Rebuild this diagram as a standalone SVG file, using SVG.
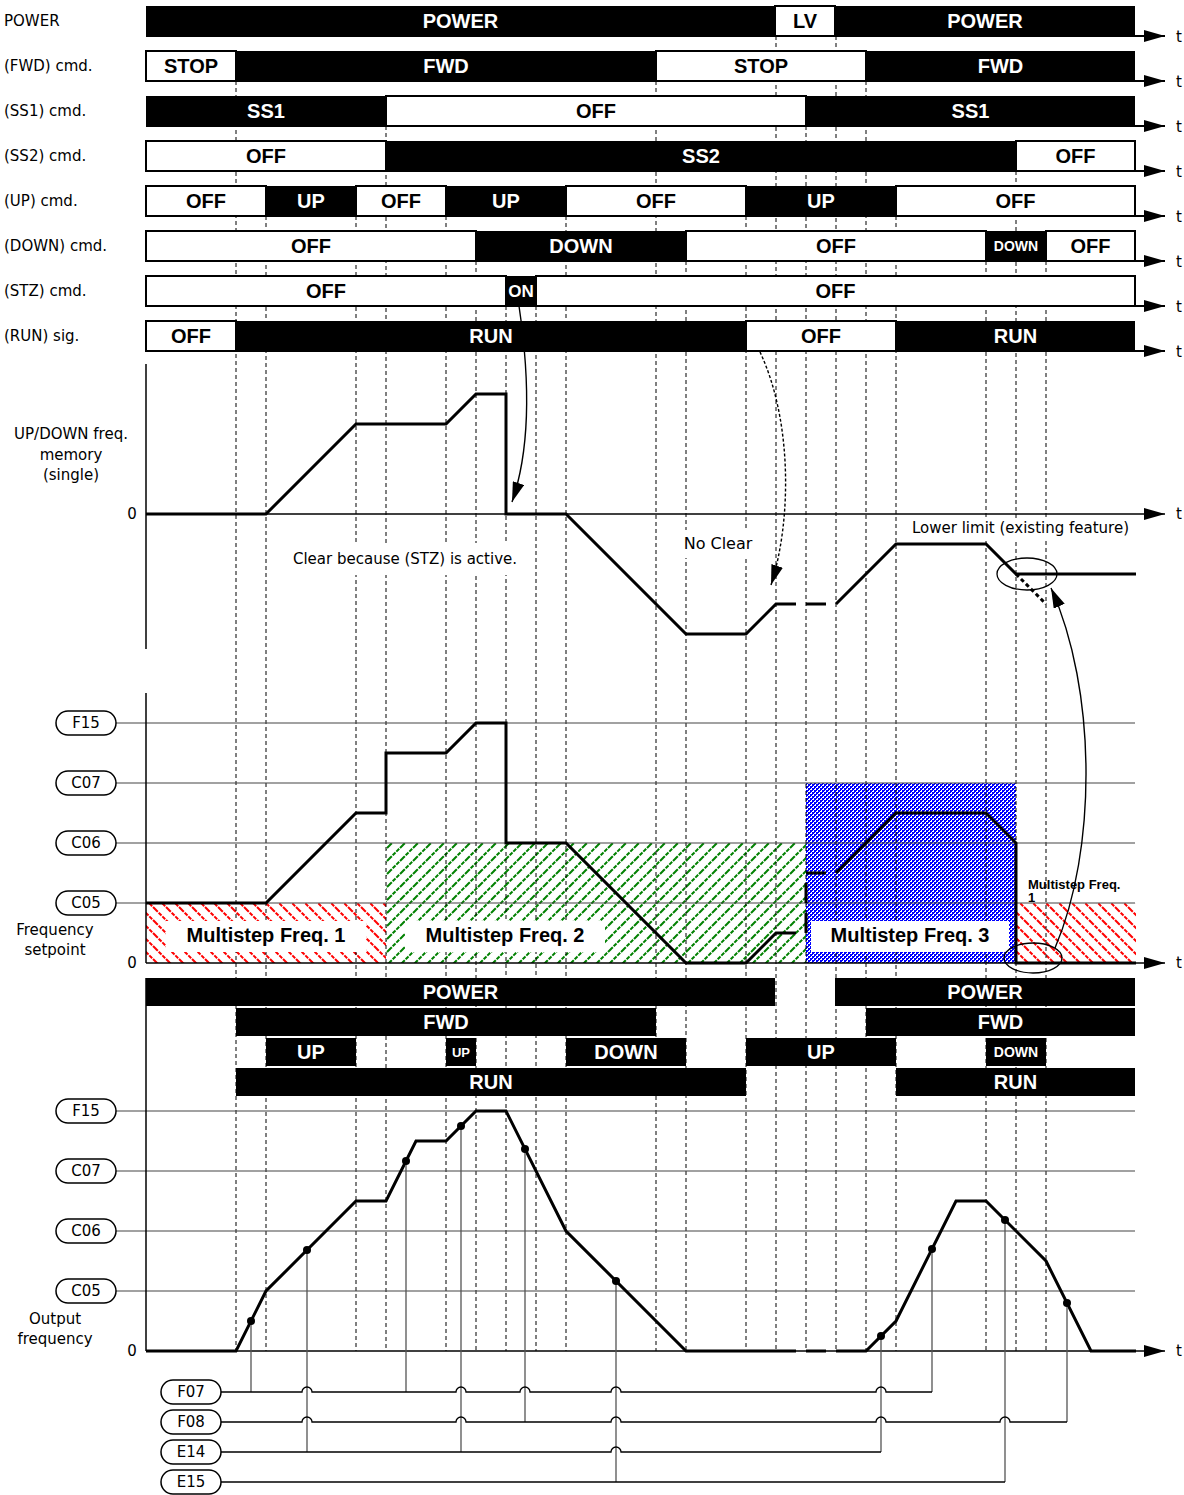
<svg xmlns="http://www.w3.org/2000/svg" width="1184" height="1495" viewBox="0 0 1184 1495">
<style>
.lbl{font-family:"DejaVu Sans",sans-serif;font-size:15px;fill:#000;dominant-baseline:central}
.mid{text-anchor:middle}
.b{font-family:"Liberation Sans",Arial,sans-serif;font-weight:bold;font-size:20px;text-anchor:middle;dominant-baseline:central}
.bw{fill:#fff}
.bk{fill:#000}
.blk{fill:#000}
.wht{fill:#fff;stroke:#000;stroke-width:2}
.dash{fill:none;stroke:#000;stroke-width:1;stroke-dasharray:4 3}
.curve{fill:none;stroke:#000;stroke-width:3;stroke-linejoin:miter}
.lvl{stroke:#444;stroke-width:1.2}
.ax{stroke:#000;stroke-width:2}
.ax1{stroke:#000;stroke-width:1.5}
.pill{fill:#fff;stroke:#000;stroke-width:1.5}
.vline{stroke:#555;stroke-width:1.3}
.bus{fill:none;stroke:#000;stroke-width:1.3}
.conn{fill:none;stroke:#000;stroke-width:1.4}
</style>
<defs>
<marker id="ah" viewBox="0 0 20 12" refX="20" refY="6" markerWidth="20" markerHeight="12" orient="auto" markerUnits="userSpaceOnUse"><path d="M0,0 L20,6 L0,12 z" fill="#000"/></marker>
<marker id="tri" viewBox="0 0 21 12" refX="21" refY="6" markerWidth="21" markerHeight="12" orient="auto" markerUnits="userSpaceOnUse"><path d="M0,0 L21,6 L0,12 z" fill="#000"/></marker>
<pattern id="red" width="13" height="13" patternUnits="userSpaceOnUse"><path d="M-1,-1 L14,14 M-1,12 L1,14 M12,-1 L14,1" stroke="#ff0000" stroke-width="2" stroke-dasharray="4 1.2"/></pattern>
<pattern id="green" width="13" height="13" patternUnits="userSpaceOnUse"><path d="M-1,14 L14,-1 M-1,1 L1,-1 M12,14 L14,12" stroke="#008000" stroke-width="2" stroke-dasharray="4 1.2"/></pattern>
<pattern id="blue" width="4" height="4" patternUnits="userSpaceOnUse"><rect x="0" y="0" width="4" height="4" fill="#ffffff"/><rect x="0" y="0" width="2" height="2" fill="#0000ff"/><rect x="2" y="2" width="2" height="2" fill="#0000ff"/><rect x="2" y="0" width="1" height="1" fill="#0000ff"/><rect x="0" y="2" width="1" height="1" fill="#0000ff"/></pattern>
</defs>
<rect width="1184" height="1495" fill="#fff"/>

<g id="hatch">
<rect x="146" y="903" width="240" height="60" fill="url(#red)"/>
<rect x="1016" y="903" width="120" height="60" fill="url(#red)"/>
<rect x="386" y="843" width="420" height="120" fill="url(#green)"/>
<rect x="806" y="783" width="210" height="180" fill="url(#blue)"/>
</g>

<path id="gridlines" class="dash" d="M236,81V1351 M266,216V1351 M356,216V1351 M386,126V1351 M446,216V1351 M476,261V1351 M506,306V1351 M536,306V1351 M566,216V1351 M656,81V1351 M686,261V1351 M746,216V1351 M776,36V1351 M806,126V1351 M836,36V1351 M866,81V1351 M896,216V1351 M986,261V1351 M1016,171V1351 M1046,261V1351"/>

<g id="levels">
<line class="lvl" x1="116" y1="723" x2="1135" y2="723"/>
<line class="lvl" x1="116" y1="783" x2="1135" y2="783"/>
<line class="lvl" x1="116" y1="843" x2="1135" y2="843"/>
<line class="lvl" x1="116" y1="903" x2="1135" y2="903"/>
<line class="lvl" x1="116" y1="1111" x2="1135" y2="1111"/>
<line class="lvl" x1="116" y1="1171" x2="1135" y2="1171"/>
<line class="lvl" x1="116" y1="1231" x2="1135" y2="1231"/>
<line class="lvl" x1="116" y1="1291" x2="1135" y2="1291"/>
</g>

<g id="graph-memory">
<line class="ax1" x1="146" y1="364" x2="146" y2="649"/>
<line class="ax1" x1="146" y1="514" x2="1165" y2="514" marker-end="url(#tri)"/>
<text class="lbl" x="1176" y="514">t</text>
<text class="lbl mid" x="132" y="514">0</text>
<text class="lbl mid" x="71" y="434">UP/DOWN freq.</text>
<text class="lbl mid" x="71" y="455">memory</text>
<text class="lbl mid" x="71" y="475">(single)</text>
<rect x="290" y="543" width="230" height="32" fill="#fff"/>
<text class="lbl mid" x="405" y="559">Clear because (STZ) is active.</text>
<rect x="679" y="530" width="78" height="28" fill="#fff"/>
<text class="lbl mid" x="718" y="543" style="font-size:16px">No Clear</text>
<rect x="908" y="518" width="224" height="22" fill="#fff"/>
<text class="lbl" x="912" y="528">Lower limit (existing feature)</text>
<path class="curve" d="M146,514 L266,514 L356,424 L446,424 L476,394 L506,394 L506,514 L566,514 L686,634 L746,634 L776,604 L796,604 M806,604 L826,604 M836,604 L896,544 L986,544 L1016,574 L1136,574"/>
<path class="curve" d="M1016,574 L1046,604" stroke-dasharray="4 3"/>
<ellipse cx="1027" cy="574" rx="30" ry="16" fill="none" stroke="#000" stroke-width="1.3"/>
</g>

<g id="graph-setpoint">
<line class="ax1" x1="146" y1="693" x2="146" y2="963"/>
<line class="ax1" x1="146" y1="963" x2="1165" y2="963" marker-end="url(#tri)"/>
<text class="lbl" x="1176" y="963">t</text>
<text class="lbl mid" x="132" y="963">0</text>
<text class="lbl mid" x="55" y="930">Frequency</text>
<text class="lbl mid" x="55" y="950">setpoint</text>
<rect x="166" y="921" width="200" height="31" fill="#fff"/>
<text class="b bk" x="266" y="935">Multistep Freq. 1</text>
<rect x="405" y="921" width="200" height="31" fill="#fff"/>
<text class="b bk" x="505" y="935">Multistep Freq. 2</text>
<rect x="811" y="921" width="198" height="31" fill="#fff"/>
<text class="b bk" x="910" y="935">Multistep Freq. 3</text>
<text class="b bk" x="1028" y="884" style="font-size:13px;text-anchor:start">Multistep Freq.</text>
<text class="b bk" x="1028" y="897" style="font-size:13px;text-anchor:start">1</text>
<path class="curve" d="M146,903 L266,903 L356,813 L386,813 L386,753 L446,753 L476,723 L506,723 L506,843 L566,843 L686,963 L746,963 L776,933 L796,933 M806,933 L806,913 M806,903 L806,883 M806,873 L826,873 M836,873 L896,813 L986,813 L1016,843 L1016,963 L1136,963"/>
<ellipse cx="1033" cy="958" rx="29" ry="15" fill="none" stroke="#000" stroke-width="1.3"/>
</g>

<g id="graph-output">
<line class="ax1" x1="146" y1="978" x2="146" y2="1351"/>
<line class="ax1" x1="146" y1="1351" x2="1165" y2="1351" marker-end="url(#tri)"/>
<text class="lbl" x="1176" y="1351">t</text>
<text class="lbl mid" x="132" y="1351">0</text>
<text class="lbl mid" x="55" y="1319">Output</text>
<text class="lbl mid" x="55" y="1339">frequency</text>
</g>

<g id="row-power">
<text class="lbl" x="4" y="21">POWER</text>
<rect class="blk" x="146" y="6" width="629" height="30"/>
<rect class="wht" x="775" y="6" width="60" height="30"/>
<rect class="blk" x="835" y="6" width="300" height="30"/>
<line class="ax" x1="146" y1="36" x2="1165" y2="36" marker-end="url(#tri)"/>
<text class="lbl" x="1176" y="37">t</text>
<text class="b bw" x="460.5" y="21">POWER</text>
<text class="b bk" x="805" y="21">LV</text>
<text class="b bw" x="985" y="21">POWER</text>
</g>
<g id="row-fwd">
<text class="lbl" x="4" y="66">(FWD) cmd.</text>
<rect class="wht" x="146" y="51" width="90" height="30"/>
<rect class="blk" x="236" y="51" width="420" height="30"/>
<rect class="wht" x="656" y="51" width="210" height="30"/>
<rect class="blk" x="866" y="51" width="269" height="30"/>
<line class="ax" x1="146" y1="81" x2="1165" y2="81" marker-end="url(#tri)"/>
<text class="lbl" x="1176" y="82">t</text>
<text class="b bk" x="191" y="66">STOP</text>
<text class="b bw" x="446" y="66">FWD</text>
<text class="b bk" x="761" y="66">STOP</text>
<text class="b bw" x="1000.5" y="66">FWD</text>
</g>
<g id="row-ss1">
<text class="lbl" x="4" y="111">(SS1) cmd.</text>
<rect class="blk" x="146" y="96" width="240" height="30"/>
<rect class="wht" x="386" y="96" width="420" height="30"/>
<rect class="blk" x="806" y="96" width="329" height="30"/>
<line class="ax" x1="146" y1="126" x2="1165" y2="126" marker-end="url(#tri)"/>
<text class="lbl" x="1176" y="127">t</text>
<text class="b bw" x="266" y="111">SS1</text>
<text class="b bk" x="596" y="111">OFF</text>
<text class="b bw" x="970.5" y="111">SS1</text>
</g>
<g id="row-ss2">
<text class="lbl" x="4" y="156">(SS2) cmd.</text>
<rect class="wht" x="146" y="141" width="240" height="30"/>
<rect class="blk" x="386" y="141" width="630" height="30"/>
<rect class="wht" x="1016" y="141" width="119" height="30"/>
<line class="ax" x1="146" y1="171" x2="1165" y2="171" marker-end="url(#tri)"/>
<text class="lbl" x="1176" y="172">t</text>
<text class="b bk" x="266" y="156">OFF</text>
<text class="b bw" x="701" y="156">SS2</text>
<text class="b bk" x="1075.5" y="156">OFF</text>
</g>
<g id="row-up">
<text class="lbl" x="4" y="201">(UP) cmd.</text>
<rect class="wht" x="146" y="186" width="120" height="30"/>
<rect class="blk" x="266" y="186" width="90" height="30"/>
<rect class="wht" x="356" y="186" width="90" height="30"/>
<rect class="blk" x="446" y="186" width="120" height="30"/>
<rect class="wht" x="566" y="186" width="180" height="30"/>
<rect class="blk" x="746" y="186" width="150" height="30"/>
<rect class="wht" x="896" y="186" width="239" height="30"/>
<line class="ax" x1="146" y1="216" x2="1165" y2="216" marker-end="url(#tri)"/>
<text class="lbl" x="1176" y="217">t</text>
<text class="b bk" x="206" y="201">OFF</text>
<text class="b bw" x="311" y="201">UP</text>
<text class="b bk" x="401" y="201">OFF</text>
<text class="b bw" x="506" y="201">UP</text>
<text class="b bk" x="656" y="201">OFF</text>
<text class="b bw" x="821" y="201">UP</text>
<text class="b bk" x="1015.5" y="201">OFF</text>
</g>
<g id="row-down">
<text class="lbl" x="4" y="246">(DOWN) cmd.</text>
<rect class="wht" x="146" y="231" width="330" height="30"/>
<rect class="blk" x="476" y="231" width="210" height="30"/>
<rect class="wht" x="686" y="231" width="300" height="30"/>
<rect class="blk" x="986" y="231" width="60" height="30"/>
<rect class="wht" x="1046" y="231" width="89" height="30"/>
<line class="ax" x1="146" y1="261" x2="1165" y2="261" marker-end="url(#tri)"/>
<text class="lbl" x="1176" y="262">t</text>
<text class="b bk" x="311" y="246">OFF</text>
<text class="b bw" x="581" y="246">DOWN</text>
<text class="b bk" x="836" y="246">OFF</text>
<text class="b bw" x="1016" y="246" style="font-size:14px">DOWN</text>
<text class="b bk" x="1090.5" y="246">OFF</text>
</g>
<g id="row-stz">
<text class="lbl" x="4" y="291">(STZ) cmd.</text>
<rect class="wht" x="146" y="276" width="360" height="30"/>
<rect class="blk" x="506" y="276" width="30" height="30"/>
<rect class="wht" x="536" y="276" width="599" height="30"/>
<line class="ax" x1="146" y1="306" x2="1165" y2="306" marker-end="url(#tri)"/>
<text class="lbl" x="1176" y="307">t</text>
<text class="b bk" x="326" y="291">OFF</text>
<text class="b bw" x="521" y="291" style="font-size:17px">ON</text>
<text class="b bk" x="835.5" y="291">OFF</text>
</g>
<g id="row-run">
<text class="lbl" x="4" y="336">(RUN) sig.</text>
<rect class="wht" x="146" y="321" width="90" height="30"/>
<rect class="blk" x="236" y="321" width="510" height="30"/>
<rect class="wht" x="746" y="321" width="150" height="30"/>
<rect class="blk" x="896" y="321" width="239" height="30"/>
<line class="ax" x1="146" y1="351" x2="1165" y2="351" marker-end="url(#tri)"/>
<text class="lbl" x="1176" y="352">t</text>
<text class="b bk" x="191" y="336">OFF</text>
<text class="b bw" x="491" y="336">RUN</text>
<text class="b bk" x="821" y="336">OFF</text>
<text class="b bw" x="1015.5" y="336">RUN</text>
</g>

<g id="bottom-bars">
<rect class="blk" x="146" y="978" width="629" height="28"/>
<rect class="blk" x="835" y="978" width="300" height="28"/>
<rect class="blk" x="236" y="1008" width="420" height="28"/>
<rect class="blk" x="866" y="1008" width="269" height="28"/>
<rect class="blk" x="266" y="1038" width="90" height="28"/>
<rect class="blk" x="446" y="1038" width="30" height="28"/>
<rect class="blk" x="566" y="1038" width="120" height="28"/>
<rect class="blk" x="746" y="1038" width="150" height="28"/>
<rect class="blk" x="986" y="1038" width="60" height="28"/>
<rect class="blk" x="236" y="1068" width="510" height="28"/>
<rect class="blk" x="896" y="1068" width="239" height="28"/>
<text class="b bw" x="460.5" y="992">POWER</text>
<text class="b bw" x="985" y="992">POWER</text>
<text class="b bw" x="446" y="1022">FWD</text>
<text class="b bw" x="1000.5" y="1022">FWD</text>
<text class="b bw" x="311" y="1052">UP</text>
<text class="b bw" x="461" y="1052" style="font-size:13px">UP</text>
<text class="b bw" x="626" y="1052">DOWN</text>
<text class="b bw" x="821" y="1052">UP</text>
<text class="b bw" x="1016" y="1052" style="font-size:14px">DOWN</text>
<text class="b bw" x="491" y="1082">RUN</text>
<text class="b bw" x="1015.5" y="1082">RUN</text>
</g>

<path id="output-curve" class="curve" d="M146,1351 L236,1351 L266,1291 L356,1201 L386,1201 L416,1141 L446,1141 L476,1111 L506,1111 L566,1231 L686,1351 L796,1351 M806,1351 L826,1351 M836,1351 L866,1351 L896,1321 L956,1201 L986,1201 L1046,1261 L1091,1351 L1136,1351"/>

<g id="pills">
<rect class="pill" x="56" y="711" width="60" height="24" rx="12"/><text class="lbl mid" x="86" y="723">F15</text>
<rect class="pill" x="56" y="771" width="60" height="24" rx="12"/><text class="lbl mid" x="86" y="783">C07</text>
<rect class="pill" x="56" y="831" width="60" height="24" rx="12"/><text class="lbl mid" x="86" y="843">C06</text>
<rect class="pill" x="56" y="891" width="60" height="24" rx="12"/><text class="lbl mid" x="86" y="903">C05</text>
<rect class="pill" x="56" y="1099" width="60" height="24" rx="12"/><text class="lbl mid" x="86" y="1111">F15</text>
<rect class="pill" x="56" y="1159" width="60" height="24" rx="12"/><text class="lbl mid" x="86" y="1171">C07</text>
<rect class="pill" x="56" y="1219" width="60" height="24" rx="12"/><text class="lbl mid" x="86" y="1231">C06</text>
<rect class="pill" x="56" y="1279" width="60" height="24" rx="12"/><text class="lbl mid" x="86" y="1291">C05</text>
<rect class="pill" x="161" y="1380" width="60" height="24" rx="12"/><text class="lbl mid" x="191" y="1392">F07</text>
<rect class="pill" x="161" y="1410" width="60" height="24" rx="12"/><text class="lbl mid" x="191" y="1422">F08</text>
<rect class="pill" x="161" y="1440" width="60" height="24" rx="12"/><text class="lbl mid" x="191" y="1452">E14</text>
<rect class="pill" x="161" y="1470" width="60" height="24" rx="12"/><text class="lbl mid" x="191" y="1482">E15</text>
</g>

<g id="connectors">
<path class="conn" d="M519,306 C530,380 530,450 512,502" marker-end="url(#ah)"/>
<path class="conn" d="M760,352 C792,420 792,520 771,585" stroke-dasharray="3 2" stroke-width="1.6" marker-end="url(#ah)"/>
<path class="conn" d="M1055,948 C1097,850 1097,690 1051,588" stroke-width="1.2" marker-end="url(#ah)"/>
<path class="vline" d="M251,1321V1392 M307,1250V1452 M406,1161V1392 M461,1126V1452 M525,1149V1422 M616,1281V1482 M881,1336V1452 M932,1249V1392 M1005,1220V1482 M1067,1303V1422"/>
<path class="bus" d="M221,1392 H302 A5,5 0 0 1 312,1392 H456 A5,5 0 0 1 466,1392 H520 A5,5 0 0 1 530,1392 H611 A5,5 0 0 1 621,1392 H876 A5,5 0 0 1 886,1392 H932"/>
<path class="bus" d="M221,1422 H302 A5,5 0 0 1 312,1422 H456 A5,5 0 0 1 466,1422 H611 A5,5 0 0 1 621,1422 H876 A5,5 0 0 1 886,1422 H1000 A5,5 0 0 1 1010,1422 H1067"/>
<path class="bus" d="M221,1452 H611 A5,5 0 0 1 621,1452 H881"/>
<path class="bus" d="M221,1482 H1005"/>
<g fill="#000">
<circle cx="251" cy="1321" r="4"/>
<circle cx="307" cy="1250" r="4"/>
<circle cx="406" cy="1161" r="4"/>
<circle cx="461" cy="1126" r="4"/>
<circle cx="525" cy="1149" r="4"/>
<circle cx="616" cy="1281" r="4"/>
<circle cx="881" cy="1336" r="4"/>
<circle cx="932" cy="1249" r="4"/>
<circle cx="1005" cy="1220" r="4"/>
<circle cx="1067" cy="1303" r="4"/>
</g>
</g>
</svg>
